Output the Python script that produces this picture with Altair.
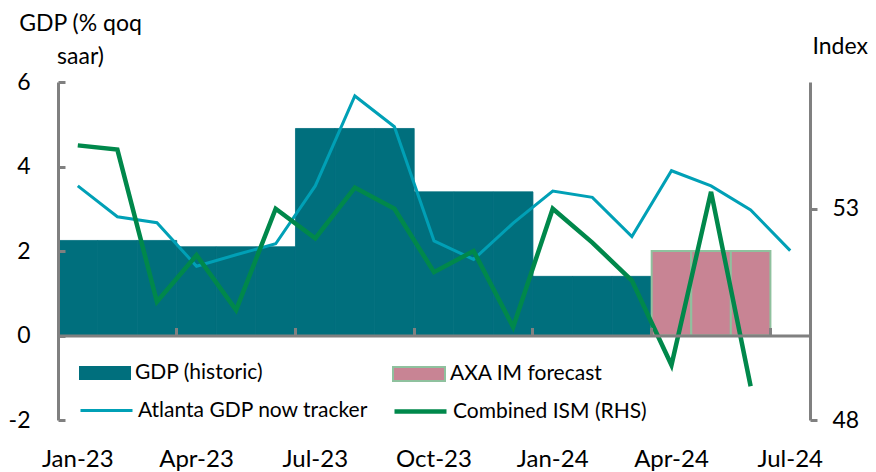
import altair as alt
import pandas as pd

# ---------------- data ----------------
months = ["Jan-23", "Feb-23", "Mar-23", "Apr-23", "May-23", "Jun-23", "Jul-23",
          "Aug-23", "Sep-23", "Oct-23", "Nov-23", "Dec-23", "Jan-24", "Feb-24",
          "Mar-24", "Apr-24", "May-24", "Jun-24", "Jul-24"]

# quarterly GDP (historic), each quarter drawn across its three months
gdp_quarters = ["Q1-23", "Q2-23", "Q3-23", "Q4-23", "Q1-24"]
gdp_hist = [2.25, 2.1, 4.9, 3.4, 1.4]

# AXA IM forecast
forecast_months = ["Apr-24", "May-24", "Jun-24"]
forecast_vals = [2.0, 2.0, 2.0]

# Atlanta GDP now tracker (Jan-23 .. Jul-24)
atlanta = [3.54, 2.81, 2.67, 1.64, 1.91, 2.17, 3.54, 5.67, 4.94, 2.24,
           1.80, 2.66, 3.42, 3.27, 2.34, 3.90, 3.54, 2.97, 2.01]

# Combined ISM (RHS, Jan-23 .. Jun-24)
ism = [54.5, 54.4, 50.8, 51.9, 50.6, 53.0, 52.3, 53.5, 53.0, 51.5,
       52.0, 50.2, 53.0, 52.2, 51.3, 49.3, 53.4, 48.8]

S_HIST = "GDP (historic)"
S_FC = "AXA IM forecast"
S_ATL = "Atlanta GDP now tracker"
S_ISM = "Combined ISM (RHS)"

# ---------------- tables ----------------
hist_rows = []
for qi, v in enumerate(gdp_hist):
    for m in months[qi * 3: qi * 3 + 3]:
        hist_rows.append({"month": m, "gdp": v, "series": S_HIST})
df_hist = pd.DataFrame(hist_rows)
df_fc = pd.DataFrame({"month": forecast_months, "gdp": forecast_vals, "series": S_FC})
df_atl = pd.DataFrame({"month": months[:len(atlanta)], "val": atlanta,
                       "idx": list(range(len(atlanta))), "series": S_ATL})
df_ism = pd.DataFrame({"month": months[:len(ism)], "val": ism,
                       "idx": list(range(len(ism))), "series": S_ISM})

# ---------------- style ----------------
W, H = 752, 338
FONT = "Lato"
GRAY = "#808080"
TEAL = "#006f7d"
PINK = "#c88494"
FC_STROKE = "#8fc19e"
ATL = "#00a0b6"
GREEN = "#00884b"
ZERO_OFF = -(H * 6 / 8)  # position of the zero line from the top

x_scale = alt.Scale(domain=months, paddingInner=0, paddingOuter=0)
y_left = alt.Scale(domain=[-2, 6], nice=False, zero=False)
y_right = alt.Scale(domain=[48, 56], nice=False, zero=False)

bar_shape = "M-1,-0.27H1V0.27H-1Z"
plain_label = "'' + datum.value"


def legend(x, y, shape, stroke_w, stroke_c=None):
    kw = dict(orient="none", legendX=x, legendY=y, title=None, symbolType=shape,
              symbolSize=2704, labelFont=FONT, labelFontSize=21, labelColor="black",
              labelOffset=4, labelLimit=400, padding=0, symbolStrokeWidth=stroke_w,
              symbolOpacity=1)
    if stroke_c:
        kw["symbolStrokeColor"] = stroke_c
    return alt.Legend(**kw)


hist = alt.Chart(df_hist).mark_bar(stroke=TEAL, strokeWidth=0.8).encode(
    x=alt.X("month:N", scale=x_scale,
            axis=alt.Axis(orient="bottom", values=months[::3], labelAngle=0, ticks=False,
                          domain=False, labelPadding=27, labelFontSize=24, labelFont=FONT,
                          labelColor="black", title=None, grid=False)),
    y=alt.Y("gdp:Q", scale=y_left,
            axis=alt.Axis(orient="left", values=[-2, 0, 2, 4, 6], ticks=False, domain=False,
                          labelPadding=28, labelFontSize=23, labelFont=FONT, labelColor="black",
                          labelExpr=plain_label,
                          title=["GDP (% qoq", "saar)"], titleAngle=0, titleAlign="center",
                          titleBaseline="alphabetic", titleX=22, titleY=-52, titleFont=FONT,
                          titleFontSize=23, titleFontWeight="normal", titleLineHeight=33,
                          titleColor="black", grid=False)),
    color=alt.Color("series:N", scale=alt.Scale(domain=[S_HIST], range=[TEAL]),
                    legend=legend(21, 265, bar_shape, 0)),
)

fc = alt.Chart(df_fc).mark_bar(stroke=FC_STROKE, strokeWidth=2).encode(
    x=alt.X("month:N", scale=x_scale,
            axis=alt.Axis(orient="top", offset=ZERO_OFF, values=months[3::3], bandPosition=0,
                          labels=False, ticks=True, tickSize=8, tickWidth=3, tickColor=GRAY,
                          domain=True, domainColor=GRAY, domainWidth=3, title=None,
                          grid=False, zindex=1)),
    y=alt.Y("gdp:Q", scale=y_left,
            axis=alt.Axis(orient="right", offset=-W, values=[-2, 0, 2, 4, 6], labels=False,
                          tickSize=7, tickWidth=3, tickColor=GRAY, domainColor=GRAY,
                          domainWidth=3, title=None, grid=False, zindex=1)),
    color=alt.Color("series:N", scale=alt.Scale(domain=[S_FC], range=[PINK]),
                    legend=legend(334, 265, bar_shape, 2, FC_STROKE)),
)

atl = alt.Chart(df_atl).mark_line(strokeWidth=3).encode(
    x=alt.X("month:N", scale=x_scale, axis=None),
    y=alt.Y("val:Q", scale=y_left, axis=None),
    order=alt.Order("idx:Q"),
    color=alt.Color("series:N", scale=alt.Scale(domain=[S_ATL], range=[ATL]),
                    legend=legend(21, 301, "stroke", 3)),
)

ismc = alt.Chart(df_ism).mark_line(strokeWidth=4.5).encode(
    x=alt.X("month:N", scale=x_scale, axis=None),
    y=alt.Y("val:Q", scale=y_right,
            axis=alt.Axis(orient="right", values=[48, 53], tickSize=7, tickWidth=3,
                          tickColor=GRAY, domainColor=GRAY, domainWidth=3, labelPadding=15,
                          labelFontSize=23, labelFont=FONT, labelColor="black",
                          title="Index", titleAngle=0, titleAlign="left",
                          titleBaseline="alphabetic", titleX=2, titleY=-29, titleFont=FONT,
                          titleFontSize=23, titleFontWeight="normal", titleColor="black",
                          grid=False)),
    order=alt.Order("idx:Q"),
    color=alt.Color("series:N", scale=alt.Scale(domain=[S_ISM], range=[GREEN]),
                    legend=legend(334, 301, "stroke", 4.5)),
)

chart = alt.layer(hist, fc, atl, ismc).resolve_scale(
    y="independent", color="independent"
).resolve_axis(
    x="independent", y="independent"
).resolve_legend(
    color="independent"
).properties(
    width=W, height=H,
    autosize=alt.AutoSizeParams(type="none"),
    padding={"left": 50, "top": 74, "right": 58, "bottom": 52},
    background="white",
).configure_view(stroke=None)

chart.save("out.html", embed_options={"renderer": "svg", "actions": False})
